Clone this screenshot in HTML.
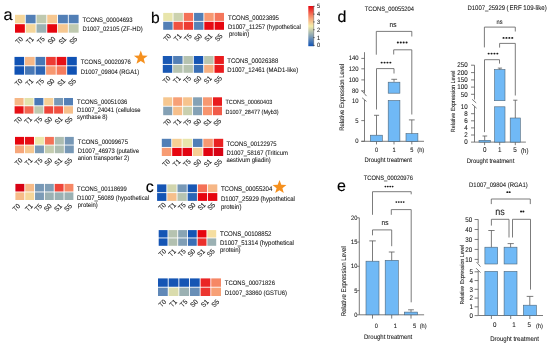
<!DOCTYPE html>
<html><head><meta charset="utf-8"><style>
html,body{margin:0;padding:0;background:#fff;}
body{width:550px;height:346px;overflow:hidden;}
svg{display:block;filter:blur(0.3px);}
text{font-family:"Liberation Sans", sans-serif;stroke:#333;stroke-width:0.08px;text-rendering:geometricPrecision;}
.nl{stroke-width:0.12px;}
.nl0{stroke:#000;stroke-width:0.15px;}
</style></head><body>
<svg width="550" height="346" viewBox="0 0 550 346" font-family='"Liberation Sans", sans-serif'>
<rect width="550" height="346" fill="#fff"/>
<text x="3.50" y="19.60" font-size="16.3" text-anchor="start" fill="#000" class="nl0">a</text>
<text x="150.90" y="23.00" font-size="15.6" text-anchor="start" fill="#000" class="nl0">b</text>
<text x="145.80" y="191.90" font-size="16.0" text-anchor="start" fill="#000" class="nl0">c</text>
<text x="337.40" y="22.10" font-size="16.0" text-anchor="start" fill="#000" class="nl0">d</text>
<text x="337.10" y="191.40" font-size="16.0" text-anchor="start" fill="#000" class="nl0">e</text>
<rect x="15.00" y="14.80" width="9.85" height="8.50" fill="#f5d69a"/>
<rect x="25.75" y="14.80" width="9.85" height="8.50" fill="#527fb6"/>
<rect x="36.50" y="14.80" width="9.85" height="8.50" fill="#bfc9af"/>
<rect x="47.25" y="14.80" width="9.85" height="8.50" fill="#f6c790"/>
<rect x="58.00" y="14.80" width="9.85" height="8.50" fill="#527fb6"/>
<rect x="68.75" y="14.80" width="9.85" height="8.50" fill="#527fb6"/>
<rect x="15.00" y="24.20" width="9.85" height="8.50" fill="#e6050f"/>
<rect x="25.75" y="24.20" width="9.85" height="8.50" fill="#f5d69a"/>
<rect x="36.50" y="24.20" width="9.85" height="8.50" fill="#9bb1b3"/>
<rect x="47.25" y="24.20" width="9.85" height="8.50" fill="#e6050f"/>
<rect x="58.00" y="24.20" width="9.85" height="8.50" fill="#f6c790"/>
<rect x="68.75" y="24.20" width="9.85" height="8.50" fill="#bfc9af"/>
<text transform="translate(23.40,39.40) rotate(-45) scale(0.9,1)" font-size="7.00" text-anchor="end" fill="#111" class="nl">T0</text>
<text transform="translate(34.26,39.40) rotate(-45) scale(0.9,1)" font-size="7.00" text-anchor="end" fill="#111" class="nl">T1</text>
<text transform="translate(45.12,39.40) rotate(-45) scale(0.9,1)" font-size="7.00" text-anchor="end" fill="#111" class="nl">T5</text>
<text transform="translate(55.98,39.40) rotate(-45) scale(0.9,1)" font-size="7.00" text-anchor="end" fill="#111" class="nl">S0</text>
<text transform="translate(66.84,39.40) rotate(-45) scale(0.9,1)" font-size="7.00" text-anchor="end" fill="#111" class="nl">S1</text>
<text transform="translate(77.70,39.40) rotate(-45) scale(0.9,1)" font-size="7.00" text-anchor="end" fill="#111" class="nl">S5</text>
<text transform="translate(82.40,21.80) scale(0.9,1)" font-size="6.56" text-anchor="start" fill="#111" >TCONS_00004693</text>
<text transform="translate(82.40,31.00) scale(0.9,1)" font-size="6.56" text-anchor="start" fill="#111" >D1007_02105 (ZF-HD)</text>
<rect x="14.50" y="56.90" width="9.63" height="8.45" fill="#1052b4"/>
<rect x="25.03" y="56.90" width="9.63" height="8.45" fill="#f6b786"/>
<rect x="35.57" y="56.90" width="9.63" height="8.45" fill="#4878b6"/>
<rect x="46.10" y="56.90" width="9.63" height="8.45" fill="#ed3b33"/>
<rect x="56.63" y="56.90" width="9.63" height="8.45" fill="#e71016"/>
<rect x="67.17" y="56.90" width="9.63" height="8.45" fill="#1052b4"/>
<rect x="14.50" y="66.25" width="9.63" height="8.45" fill="#1052b4"/>
<rect x="25.03" y="66.25" width="9.63" height="8.45" fill="#4878b6"/>
<rect x="35.57" y="66.25" width="9.63" height="8.45" fill="#2c65b5"/>
<rect x="46.10" y="66.25" width="9.63" height="8.45" fill="#f79871"/>
<rect x="56.63" y="66.25" width="9.63" height="8.45" fill="#f57c5e"/>
<rect x="67.17" y="66.25" width="9.63" height="8.45" fill="#1052b4"/>
<text transform="translate(23.00,81.40) rotate(-45) scale(0.9,1)" font-size="7.00" text-anchor="end" fill="#111" class="nl">T0</text>
<text transform="translate(33.70,81.40) rotate(-45) scale(0.9,1)" font-size="7.00" text-anchor="end" fill="#111" class="nl">T1</text>
<text transform="translate(44.40,81.40) rotate(-45) scale(0.9,1)" font-size="7.00" text-anchor="end" fill="#111" class="nl">T5</text>
<text transform="translate(55.10,81.40) rotate(-45) scale(0.9,1)" font-size="7.00" text-anchor="end" fill="#111" class="nl">S0</text>
<text transform="translate(65.80,81.40) rotate(-45) scale(0.9,1)" font-size="7.00" text-anchor="end" fill="#111" class="nl">S1</text>
<text transform="translate(76.50,81.40) rotate(-45) scale(0.9,1)" font-size="7.00" text-anchor="end" fill="#111" class="nl">S5</text>
<text transform="translate(80.70,64.30) scale(0.9,1)" font-size="6.56" text-anchor="start" fill="#111" >TCONS_00020976</text>
<text transform="translate(80.70,73.90) scale(0.9,1)" font-size="6.56" text-anchor="start" fill="#111" >D1007_09804 (RGA1)</text>
<rect x="14.60" y="98.00" width="8.98" height="7.35" fill="#f6b786"/>
<rect x="24.48" y="98.00" width="8.98" height="7.35" fill="#e3e2ac"/>
<rect x="34.37" y="98.00" width="8.98" height="7.35" fill="#4878b6"/>
<rect x="44.25" y="98.00" width="8.98" height="7.35" fill="#f6cf95"/>
<rect x="54.13" y="98.00" width="8.98" height="7.35" fill="#7798b6"/>
<rect x="64.02" y="98.00" width="8.98" height="7.35" fill="#527fb6"/>
<rect x="14.60" y="106.25" width="8.98" height="7.35" fill="#e71016"/>
<rect x="24.48" y="106.25" width="8.98" height="7.35" fill="#f26650"/>
<rect x="34.37" y="106.25" width="8.98" height="7.35" fill="#bfc9af"/>
<rect x="44.25" y="106.25" width="8.98" height="7.35" fill="#ee463a"/>
<rect x="54.13" y="106.25" width="8.98" height="7.35" fill="#f05141"/>
<rect x="64.02" y="106.25" width="8.98" height="7.35" fill="#f6bf8b"/>
<text transform="translate(22.40,119.40) rotate(-45) scale(0.9,1)" font-size="7.00" text-anchor="end" fill="#111" class="nl">T0</text>
<text transform="translate(32.52,119.40) rotate(-45) scale(0.9,1)" font-size="7.00" text-anchor="end" fill="#111" class="nl">T1</text>
<text transform="translate(42.64,119.40) rotate(-45) scale(0.9,1)" font-size="7.00" text-anchor="end" fill="#111" class="nl">T5</text>
<text transform="translate(52.76,119.40) rotate(-45) scale(0.9,1)" font-size="7.00" text-anchor="end" fill="#111" class="nl">S0</text>
<text transform="translate(62.88,119.40) rotate(-45) scale(0.9,1)" font-size="7.00" text-anchor="end" fill="#111" class="nl">S1</text>
<text transform="translate(73.00,119.40) rotate(-45) scale(0.9,1)" font-size="7.00" text-anchor="end" fill="#111" class="nl">S5</text>
<text transform="translate(77.10,103.70) scale(0.9,1)" font-size="6.56" text-anchor="start" fill="#111" >TCONS_00051036</text>
<text transform="translate(77.10,112.20) scale(0.9,1)" font-size="6.56" text-anchor="start" fill="#111" >D1007_24041 (cellulose</text>
<text transform="translate(77.10,119.00) scale(0.9,1)" font-size="6.56" text-anchor="start" fill="#111" >synthase 8)</text>
<rect x="15.00" y="136.90" width="9.05" height="7.70" fill="#e6050f"/>
<rect x="24.95" y="136.90" width="9.05" height="7.70" fill="#e71016"/>
<rect x="34.90" y="136.90" width="9.05" height="7.70" fill="#ece8ab"/>
<rect x="44.85" y="136.90" width="9.05" height="7.70" fill="#f47157"/>
<rect x="54.80" y="136.90" width="9.05" height="7.70" fill="#adbdb1"/>
<rect x="64.75" y="136.90" width="9.05" height="7.70" fill="#7798b6"/>
<rect x="15.00" y="145.50" width="9.05" height="7.70" fill="#f6a77b"/>
<rect x="24.95" y="145.50" width="9.05" height="7.70" fill="#f6c790"/>
<rect x="34.90" y="145.50" width="9.05" height="7.70" fill="#7b9bb6"/>
<rect x="44.85" y="145.50" width="9.05" height="7.70" fill="#c4ccaf"/>
<rect x="54.80" y="145.50" width="9.05" height="7.70" fill="#adbdb1"/>
<rect x="64.75" y="145.50" width="9.05" height="7.70" fill="#7798b6"/>
<text transform="translate(23.00,160.70) rotate(-45) scale(0.9,1)" font-size="7.00" text-anchor="end" fill="#111" class="nl">T0</text>
<text transform="translate(32.94,160.70) rotate(-45) scale(0.9,1)" font-size="7.00" text-anchor="end" fill="#111" class="nl">T1</text>
<text transform="translate(42.88,160.70) rotate(-45) scale(0.9,1)" font-size="7.00" text-anchor="end" fill="#111" class="nl">T5</text>
<text transform="translate(52.82,160.70) rotate(-45) scale(0.9,1)" font-size="7.00" text-anchor="end" fill="#111" class="nl">S0</text>
<text transform="translate(62.76,160.70) rotate(-45) scale(0.9,1)" font-size="7.00" text-anchor="end" fill="#111" class="nl">S1</text>
<text transform="translate(72.70,160.70) rotate(-45) scale(0.9,1)" font-size="7.00" text-anchor="end" fill="#111" class="nl">S5</text>
<text transform="translate(77.80,144.30) scale(0.9,1)" font-size="6.56" text-anchor="start" fill="#111" >TCONS_00099675</text>
<text transform="translate(77.80,152.90) scale(0.9,1)" font-size="6.56" text-anchor="start" fill="#111" >D1007_46973 (putative</text>
<text transform="translate(77.80,159.90) scale(0.9,1)" font-size="6.56" text-anchor="start" fill="#111" >anion transporter 2)</text>
<rect x="15.40" y="183.90" width="8.92" height="7.60" fill="#d70214"/>
<rect x="25.22" y="183.90" width="8.92" height="7.60" fill="#f6bb88"/>
<rect x="35.03" y="183.90" width="8.92" height="7.60" fill="#7798b6"/>
<rect x="44.85" y="183.90" width="8.92" height="7.60" fill="#809eb5"/>
<rect x="54.67" y="183.90" width="8.92" height="7.60" fill="#ee463a"/>
<rect x="64.48" y="183.90" width="8.92" height="7.60" fill="#f68765"/>
<rect x="15.40" y="192.40" width="8.92" height="7.60" fill="#f6bb88"/>
<rect x="25.22" y="192.40" width="8.92" height="7.60" fill="#f5d69a"/>
<rect x="35.03" y="192.40" width="8.92" height="7.60" fill="#7b9bb6"/>
<rect x="44.85" y="192.40" width="8.92" height="7.60" fill="#9bb1b3"/>
<rect x="54.67" y="192.40" width="8.92" height="7.60" fill="#9bb1b3"/>
<rect x="64.48" y="192.40" width="8.92" height="7.60" fill="#9bb1b3"/>
<text transform="translate(20.70,206.60) rotate(-45) scale(0.9,1)" font-size="7.00" text-anchor="end" fill="#111" class="nl">T0</text>
<text transform="translate(33.30,206.60) rotate(-45) scale(0.9,1)" font-size="7.00" text-anchor="end" fill="#111" class="nl">T1</text>
<text transform="translate(42.60,206.60) rotate(-45) scale(0.9,1)" font-size="7.00" text-anchor="end" fill="#111" class="nl">T5</text>
<text transform="translate(52.20,206.60) rotate(-45) scale(0.9,1)" font-size="7.00" text-anchor="end" fill="#111" class="nl">S0</text>
<text transform="translate(62.40,206.60) rotate(-45) scale(0.9,1)" font-size="7.00" text-anchor="end" fill="#111" class="nl">S1</text>
<text transform="translate(72.50,206.60) rotate(-45) scale(0.9,1)" font-size="7.00" text-anchor="end" fill="#111" class="nl">S5</text>
<text transform="translate(77.10,190.90) scale(0.9,1)" font-size="6.56" text-anchor="start" fill="#111" >TCONS_00118699</text>
<text transform="translate(77.10,199.60) scale(0.9,1)" font-size="6.56" text-anchor="start" fill="#111" >D1007_56089 (hypothetical</text>
<text transform="translate(77.70,206.50) scale(0.9,1)" font-size="6.56" text-anchor="start" fill="#111" > protein)</text>
<polygon points="140.80,50.60 142.60,55.42 147.74,55.64 143.72,58.85 145.09,63.81 140.80,60.97 136.51,63.81 137.88,58.85 133.86,55.64 139.00,55.42" fill="#f5901e"/>
<polygon points="279.50,179.90 281.30,184.72 286.44,184.94 282.42,188.15 283.79,193.11 279.50,190.27 275.21,193.11 276.58,188.15 272.56,184.94 277.70,184.72" fill="#f5901e"/>
<rect x="163.20" y="12.90" width="9.38" height="8.00" fill="#e8e5ab"/>
<rect x="173.48" y="12.90" width="9.38" height="8.00" fill="#ccd2ae"/>
<rect x="183.77" y="12.90" width="9.38" height="8.00" fill="#f47157"/>
<rect x="194.05" y="12.90" width="9.38" height="8.00" fill="#527fb6"/>
<rect x="204.33" y="12.90" width="9.38" height="8.00" fill="#f79871"/>
<rect x="214.62" y="12.90" width="9.38" height="8.00" fill="#f4765b"/>
<rect x="163.20" y="21.80" width="9.38" height="8.00" fill="#527fb6"/>
<rect x="173.48" y="21.80" width="9.38" height="8.00" fill="#f05141"/>
<rect x="183.77" y="21.80" width="9.38" height="8.00" fill="#ed3b33"/>
<rect x="194.05" y="21.80" width="9.38" height="8.00" fill="#5682b6"/>
<rect x="204.33" y="21.80" width="9.38" height="8.00" fill="#e70a13"/>
<rect x="214.62" y="21.80" width="9.38" height="8.00" fill="#e6050f"/>
<text transform="translate(171.60,36.50) rotate(-45) scale(0.9,1)" font-size="7.00" text-anchor="end" fill="#111" class="nl">T0</text>
<text transform="translate(181.90,36.50) rotate(-45) scale(0.9,1)" font-size="7.00" text-anchor="end" fill="#111" class="nl">T1</text>
<text transform="translate(192.20,36.50) rotate(-45) scale(0.9,1)" font-size="7.00" text-anchor="end" fill="#111" class="nl">T5</text>
<text transform="translate(202.50,36.50) rotate(-45) scale(0.9,1)" font-size="7.00" text-anchor="end" fill="#111" class="nl">S0</text>
<text transform="translate(212.80,36.50) rotate(-45) scale(0.9,1)" font-size="7.00" text-anchor="end" fill="#111" class="nl">S1</text>
<text transform="translate(223.10,36.50) rotate(-45) scale(0.9,1)" font-size="7.00" text-anchor="end" fill="#111" class="nl">S5</text>
<text transform="translate(228.00,19.90) scale(0.9,1)" font-size="6.67" text-anchor="start" fill="#111" >TCONS_00023895</text>
<text transform="translate(228.00,28.50) scale(0.9,1)" font-size="6.67" text-anchor="start" fill="#111" >D1007_11257 (hypothetical</text>
<text transform="translate(229.00,35.50) scale(0.9,1)" font-size="6.67" text-anchor="start" fill="#111" > protein)</text>
<rect x="162.80" y="56.00" width="9.43" height="7.95" fill="#1958b4"/>
<rect x="173.13" y="56.00" width="9.43" height="7.95" fill="#527fb6"/>
<rect x="183.47" y="56.00" width="9.43" height="7.95" fill="#b6c3b0"/>
<rect x="193.80" y="56.00" width="9.43" height="7.95" fill="#1555b4"/>
<rect x="204.13" y="56.00" width="9.43" height="7.95" fill="#bac6b0"/>
<rect x="214.47" y="56.00" width="9.43" height="7.95" fill="#e91b1d"/>
<rect x="162.80" y="64.85" width="9.43" height="7.95" fill="#1958b4"/>
<rect x="173.13" y="64.85" width="9.43" height="7.95" fill="#b6c3b0"/>
<rect x="183.47" y="64.85" width="9.43" height="7.95" fill="#b6c3b0"/>
<rect x="193.80" y="64.85" width="9.43" height="7.95" fill="#3a6fb5"/>
<rect x="204.13" y="64.85" width="9.43" height="7.95" fill="#f6af80"/>
<rect x="214.47" y="64.85" width="9.43" height="7.95" fill="#e91b1d"/>
<text transform="translate(170.90,78.80) rotate(-45) scale(0.9,1)" font-size="7.00" text-anchor="end" fill="#111" class="nl">T0</text>
<text transform="translate(181.22,78.80) rotate(-45) scale(0.9,1)" font-size="7.00" text-anchor="end" fill="#111" class="nl">T1</text>
<text transform="translate(191.54,78.80) rotate(-45) scale(0.9,1)" font-size="7.00" text-anchor="end" fill="#111" class="nl">T5</text>
<text transform="translate(201.86,78.80) rotate(-45) scale(0.9,1)" font-size="7.00" text-anchor="end" fill="#111" class="nl">S0</text>
<text transform="translate(212.18,78.80) rotate(-45) scale(0.9,1)" font-size="7.00" text-anchor="end" fill="#111" class="nl">S1</text>
<text transform="translate(222.50,78.80) rotate(-45) scale(0.9,1)" font-size="7.00" text-anchor="end" fill="#111" class="nl">S5</text>
<text transform="translate(227.30,62.80) scale(0.9,1)" font-size="6.67" text-anchor="start" fill="#111" >TCONS_00026388</text>
<text transform="translate(227.30,71.80) scale(0.9,1)" font-size="6.67" text-anchor="start" fill="#111" >D1007_12461 (MAD1-like)</text>
<rect x="163.20" y="97.30" width="9.05" height="8.50" fill="#f6c790"/>
<rect x="173.15" y="97.30" width="9.05" height="8.50" fill="#f7a076"/>
<rect x="183.10" y="97.30" width="9.05" height="8.50" fill="#f6c38d"/>
<rect x="193.05" y="97.30" width="9.05" height="8.50" fill="#84a1b5"/>
<rect x="203.00" y="97.30" width="9.05" height="8.50" fill="#f79871"/>
<rect x="212.95" y="97.30" width="9.05" height="8.50" fill="#e91b1d"/>
<rect x="163.20" y="106.70" width="9.05" height="8.50" fill="#84a1b5"/>
<rect x="173.15" y="106.70" width="9.05" height="8.50" fill="#f6bf8b"/>
<rect x="183.10" y="106.70" width="9.05" height="8.50" fill="#c8cfae"/>
<rect x="193.05" y="106.70" width="9.05" height="8.50" fill="#84a1b5"/>
<rect x="203.00" y="106.70" width="9.05" height="8.50" fill="#f7946e"/>
<rect x="212.95" y="106.70" width="9.05" height="8.50" fill="#f15b49"/>
<text transform="translate(171.60,121.40) rotate(-45) scale(0.9,1)" font-size="7.00" text-anchor="end" fill="#111" class="nl">T0</text>
<text transform="translate(181.64,121.40) rotate(-45) scale(0.9,1)" font-size="7.00" text-anchor="end" fill="#111" class="nl">T1</text>
<text transform="translate(191.68,121.40) rotate(-45) scale(0.9,1)" font-size="7.00" text-anchor="end" fill="#111" class="nl">T5</text>
<text transform="translate(201.72,121.40) rotate(-45) scale(0.9,1)" font-size="7.00" text-anchor="end" fill="#111" class="nl">S0</text>
<text transform="translate(211.76,121.40) rotate(-45) scale(0.9,1)" font-size="7.00" text-anchor="end" fill="#111" class="nl">S1</text>
<text transform="translate(221.80,121.40) rotate(-45) scale(0.9,1)" font-size="7.00" text-anchor="end" fill="#111" class="nl">S5</text>
<text transform="translate(225.50,104.40) scale(0.9,1)" font-size="6.11" text-anchor="start" fill="#111" >TCONS_00060403</text>
<text transform="translate(225.50,113.50) scale(0.9,1)" font-size="6.11" text-anchor="start" fill="#111" >D1007_28477 (Myb3)</text>
<rect x="161.80" y="138.80" width="9.48" height="8.15" fill="#527fb6"/>
<rect x="172.18" y="138.80" width="9.48" height="8.15" fill="#f6cf95"/>
<rect x="182.57" y="138.80" width="9.48" height="8.15" fill="#e8e5ab"/>
<rect x="192.95" y="138.80" width="9.48" height="8.15" fill="#527fb6"/>
<rect x="203.33" y="138.80" width="9.48" height="8.15" fill="#f79871"/>
<rect x="213.72" y="138.80" width="9.48" height="8.15" fill="#e92021"/>
<rect x="161.80" y="147.85" width="9.48" height="8.15" fill="#f79c73"/>
<rect x="172.18" y="147.85" width="9.48" height="8.15" fill="#e6050f"/>
<rect x="182.57" y="147.85" width="9.48" height="8.15" fill="#e10411"/>
<rect x="192.95" y="147.85" width="9.48" height="8.15" fill="#f6cf95"/>
<rect x="203.33" y="147.85" width="9.48" height="8.15" fill="#e10411"/>
<rect x="213.72" y="147.85" width="9.48" height="8.15" fill="#d70214"/>
<text transform="translate(170.50,162.00) rotate(-45) scale(0.9,1)" font-size="7.00" text-anchor="end" fill="#111" class="nl">T0</text>
<text transform="translate(180.90,162.00) rotate(-45) scale(0.9,1)" font-size="7.00" text-anchor="end" fill="#111" class="nl">T1</text>
<text transform="translate(191.30,162.00) rotate(-45) scale(0.9,1)" font-size="7.00" text-anchor="end" fill="#111" class="nl">T5</text>
<text transform="translate(201.70,162.00) rotate(-45) scale(0.9,1)" font-size="7.00" text-anchor="end" fill="#111" class="nl">S0</text>
<text transform="translate(212.10,162.00) rotate(-45) scale(0.9,1)" font-size="7.00" text-anchor="end" fill="#111" class="nl">S1</text>
<text transform="translate(222.50,162.00) rotate(-45) scale(0.9,1)" font-size="7.00" text-anchor="end" fill="#111" class="nl">S5</text>
<text transform="translate(226.50,145.80) scale(0.9,1)" font-size="6.56" text-anchor="start" fill="#111" >TCONS_00122975</text>
<text transform="translate(226.50,154.50) scale(0.9,1)" font-size="6.56" text-anchor="start" fill="#111" >D1007_58167 (Triticum</text>
<text transform="translate(226.50,161.80) scale(0.9,1)" font-size="6.56" text-anchor="start" fill="#111" >aestivum gliadin)</text>
<defs><linearGradient id="cb" x1="0" y1="1" x2="0" y2="0"><stop offset="0.000" stop-color="#1052b4"/><stop offset="0.100" stop-color="#3f72b6"/><stop offset="0.200" stop-color="#6e92b7"/><stop offset="0.300" stop-color="#9bb1b3"/><stop offset="0.400" stop-color="#c8cfae"/><stop offset="0.500" stop-color="#f5eeaa"/><stop offset="0.600" stop-color="#f6c790"/><stop offset="0.700" stop-color="#f7a076"/><stop offset="0.800" stop-color="#f47157"/><stop offset="0.900" stop-color="#ed3b33"/><stop offset="1.000" stop-color="#e6050f"/></linearGradient></defs>
<rect x="308.30" y="6.00" width="5.50" height="40.20" fill="url(#cb)"/>
<line x1="313.70" y1="6.00" x2="313.70" y2="46.20" stroke="#666" stroke-width="0.5"/>
<line x1="313.30" y1="45.40" x2="314.60" y2="45.40" stroke="#333" stroke-width="0.8"/>
<text transform="translate(317.00,47.40) scale(0.9,1)" font-size="6.22" text-anchor="start" fill="#111" >0</text>
<line x1="313.30" y1="37.58" x2="314.60" y2="37.58" stroke="#333" stroke-width="0.8"/>
<text transform="translate(317.00,39.58) scale(0.9,1)" font-size="6.22" text-anchor="start" fill="#111" >1</text>
<line x1="313.30" y1="29.76" x2="314.60" y2="29.76" stroke="#333" stroke-width="0.8"/>
<text transform="translate(317.00,31.76) scale(0.9,1)" font-size="6.22" text-anchor="start" fill="#111" >2</text>
<line x1="313.30" y1="21.94" x2="314.60" y2="21.94" stroke="#333" stroke-width="0.8"/>
<text transform="translate(317.00,23.94) scale(0.9,1)" font-size="6.22" text-anchor="start" fill="#111" >3</text>
<line x1="313.30" y1="14.12" x2="314.60" y2="14.12" stroke="#333" stroke-width="0.8"/>
<text transform="translate(317.00,16.12) scale(0.9,1)" font-size="6.22" text-anchor="start" fill="#111" >4</text>
<line x1="313.30" y1="6.30" x2="314.60" y2="6.30" stroke="#333" stroke-width="0.8"/>
<text transform="translate(317.00,8.30) scale(0.9,1)" font-size="6.22" text-anchor="start" fill="#111" >5</text>
<rect x="157.10" y="184.40" width="9.28" height="7.80" fill="#1555b4"/>
<rect x="167.28" y="184.40" width="9.28" height="7.80" fill="#d1d5ad"/>
<rect x="177.47" y="184.40" width="9.28" height="7.80" fill="#7798b6"/>
<rect x="187.65" y="184.40" width="9.28" height="7.80" fill="#1958b4"/>
<rect x="197.83" y="184.40" width="9.28" height="7.80" fill="#f47157"/>
<rect x="208.02" y="184.40" width="9.28" height="7.80" fill="#f6b786"/>
<rect x="157.10" y="193.10" width="9.28" height="7.80" fill="#1555b4"/>
<rect x="167.28" y="193.10" width="9.28" height="7.80" fill="#f6bf8b"/>
<rect x="177.47" y="193.10" width="9.28" height="7.80" fill="#b6c3b0"/>
<rect x="187.65" y="193.10" width="9.28" height="7.80" fill="#2c65b5"/>
<rect x="197.83" y="193.10" width="9.28" height="7.80" fill="#e6050f"/>
<rect x="208.02" y="193.10" width="9.28" height="7.80" fill="#e6050f"/>
<text transform="translate(166.50,205.40) rotate(-45) scale(0.9,1)" font-size="7.00" text-anchor="end" fill="#111" class="nl">T0</text>
<text transform="translate(176.36,205.40) rotate(-45) scale(0.9,1)" font-size="7.00" text-anchor="end" fill="#111" class="nl">T1</text>
<text transform="translate(186.22,205.40) rotate(-45) scale(0.9,1)" font-size="7.00" text-anchor="end" fill="#111" class="nl">T5</text>
<text transform="translate(196.08,205.40) rotate(-45) scale(0.9,1)" font-size="7.00" text-anchor="end" fill="#111" class="nl">S0</text>
<text transform="translate(205.94,205.40) rotate(-45) scale(0.9,1)" font-size="7.00" text-anchor="end" fill="#111" class="nl">S1</text>
<text transform="translate(215.80,205.40) rotate(-45) scale(0.9,1)" font-size="7.00" text-anchor="end" fill="#111" class="nl">S5</text>
<text transform="translate(220.90,191.00) scale(0.9,1)" font-size="6.72" text-anchor="start" fill="#111" >TCONS_00055204</text>
<text transform="translate(220.90,200.50) scale(0.9,1)" font-size="6.72" text-anchor="start" fill="#111" >D1007_25929 (hypothetical</text>
<text transform="translate(220.90,208.60) scale(0.9,1)" font-size="6.72" text-anchor="start" fill="#111" >protein)</text>
<rect x="158.70" y="230.10" width="8.83" height="7.40" fill="#1555b4"/>
<rect x="168.43" y="230.10" width="8.83" height="7.40" fill="#b6c3b0"/>
<rect x="178.17" y="230.10" width="8.83" height="7.40" fill="#89a4b4"/>
<rect x="187.90" y="230.10" width="8.83" height="7.40" fill="#1555b4"/>
<rect x="197.63" y="230.10" width="8.83" height="7.40" fill="#e6050f"/>
<rect x="207.37" y="230.10" width="8.83" height="7.40" fill="#f5dea0"/>
<rect x="158.70" y="238.40" width="8.83" height="7.40" fill="#1555b4"/>
<rect x="168.43" y="238.40" width="8.83" height="7.40" fill="#b2c0b0"/>
<rect x="178.17" y="238.40" width="8.83" height="7.40" fill="#809eb5"/>
<rect x="187.90" y="238.40" width="8.83" height="7.40" fill="#3a6fb5"/>
<rect x="197.63" y="238.40" width="8.83" height="7.40" fill="#eb302c"/>
<rect x="207.37" y="238.40" width="8.83" height="7.40" fill="#9bb1b3"/>
<text transform="translate(166.80,251.80) rotate(-45) scale(0.9,1)" font-size="7.00" text-anchor="end" fill="#111" class="nl">T0</text>
<text transform="translate(176.48,251.80) rotate(-45) scale(0.9,1)" font-size="7.00" text-anchor="end" fill="#111" class="nl">T1</text>
<text transform="translate(186.16,251.80) rotate(-45) scale(0.9,1)" font-size="7.00" text-anchor="end" fill="#111" class="nl">T5</text>
<text transform="translate(195.84,251.80) rotate(-45) scale(0.9,1)" font-size="7.00" text-anchor="end" fill="#111" class="nl">S0</text>
<text transform="translate(205.52,251.80) rotate(-45) scale(0.9,1)" font-size="7.00" text-anchor="end" fill="#111" class="nl">S1</text>
<text transform="translate(215.20,251.80) rotate(-45) scale(0.9,1)" font-size="7.00" text-anchor="end" fill="#111" class="nl">S5</text>
<text transform="translate(220.00,236.30) scale(0.9,1)" font-size="6.72" text-anchor="start" fill="#111" >TCONS_00108852</text>
<text transform="translate(220.00,245.00) scale(0.9,1)" font-size="6.72" text-anchor="start" fill="#111" >D1007_51314 (hypothetical</text>
<text transform="translate(220.00,251.50) scale(0.9,1)" font-size="6.72" text-anchor="start" fill="#111" >protein)</text>
<rect x="158.00" y="278.40" width="9.75" height="8.35" fill="#1555b4"/>
<rect x="168.65" y="278.40" width="9.75" height="8.35" fill="#1555b4"/>
<rect x="179.30" y="278.40" width="9.75" height="8.35" fill="#1555b4"/>
<rect x="189.95" y="278.40" width="9.75" height="8.35" fill="#1555b4"/>
<rect x="200.60" y="278.40" width="9.75" height="8.35" fill="#ea2525"/>
<rect x="211.25" y="278.40" width="9.75" height="8.35" fill="#f68765"/>
<rect x="158.00" y="287.65" width="9.75" height="8.35" fill="#6088b7"/>
<rect x="168.65" y="287.65" width="9.75" height="8.35" fill="#dadcad"/>
<rect x="179.30" y="287.65" width="9.75" height="8.35" fill="#9bb1b3"/>
<rect x="189.95" y="287.65" width="9.75" height="8.35" fill="#698fb7"/>
<rect x="200.60" y="287.65" width="9.75" height="8.35" fill="#ec362f"/>
<rect x="211.25" y="287.65" width="9.75" height="8.35" fill="#f7a076"/>
<text transform="translate(166.80,302.30) rotate(-45) scale(0.9,1)" font-size="7.00" text-anchor="end" fill="#111" class="nl">T0</text>
<text transform="translate(177.38,302.30) rotate(-45) scale(0.9,1)" font-size="7.00" text-anchor="end" fill="#111" class="nl">T1</text>
<text transform="translate(187.96,302.30) rotate(-45) scale(0.9,1)" font-size="7.00" text-anchor="end" fill="#111" class="nl">T5</text>
<text transform="translate(198.54,302.30) rotate(-45) scale(0.9,1)" font-size="7.00" text-anchor="end" fill="#111" class="nl">S0</text>
<text transform="translate(209.12,302.30) rotate(-45) scale(0.9,1)" font-size="7.00" text-anchor="end" fill="#111" class="nl">S1</text>
<text transform="translate(219.70,302.30) rotate(-45) scale(0.9,1)" font-size="7.00" text-anchor="end" fill="#111" class="nl">S5</text>
<text transform="translate(224.80,285.10) scale(0.9,1)" font-size="6.56" text-anchor="start" fill="#111" >TCONS_00071826</text>
<text transform="translate(224.80,294.90) scale(0.9,1)" font-size="6.56" text-anchor="start" fill="#111" >D1007_33860 (GSTU6)</text>
<text transform="translate(389.40,11.30) scale(0.9,1)" font-size="6.44" text-anchor="middle" fill="#111" >TCONS_00055204</text>
<line x1="364.50" y1="52.20" x2="364.50" y2="93.00" stroke="#5a5a5a" stroke-width="0.8"/>
<line x1="364.50" y1="100.00" x2="364.50" y2="141.30" stroke="#5a5a5a" stroke-width="0.8"/>
<line x1="361.70" y1="90.50" x2="366.50" y2="96.10" stroke="#5a5a5a" stroke-width="0.8"/>
<line x1="362.10" y1="97.80" x2="366.50" y2="101.40" stroke="#5a5a5a" stroke-width="0.8"/>
<line x1="361.30" y1="58.40" x2="364.50" y2="58.40" stroke="#5a5a5a" stroke-width="0.8"/>
<text transform="translate(358.60,60.40) scale(0.9,1)" font-size="6.56" text-anchor="end" fill="#111" >140</text>
<line x1="361.30" y1="68.80" x2="364.50" y2="68.80" stroke="#5a5a5a" stroke-width="0.8"/>
<text transform="translate(358.60,70.80) scale(0.9,1)" font-size="6.56" text-anchor="end" fill="#111" >120</text>
<line x1="361.30" y1="79.90" x2="364.50" y2="79.90" stroke="#5a5a5a" stroke-width="0.8"/>
<text transform="translate(358.60,81.90) scale(0.9,1)" font-size="6.56" text-anchor="end" fill="#111" >100</text>
<line x1="361.30" y1="90.90" x2="364.50" y2="90.90" stroke="#5a5a5a" stroke-width="0.8"/>
<text transform="translate(358.60,92.90) scale(0.9,1)" font-size="6.56" text-anchor="end" fill="#111" >80</text>
<text transform="translate(358.60,102.60) scale(0.9,1)" font-size="6.56" text-anchor="end" fill="#111" >10</text>
<line x1="361.30" y1="120.60" x2="364.50" y2="120.60" stroke="#5a5a5a" stroke-width="0.8"/>
<text transform="translate(358.60,122.60) scale(0.9,1)" font-size="6.56" text-anchor="end" fill="#111" >5</text>
<line x1="361.30" y1="141.30" x2="364.50" y2="141.30" stroke="#5a5a5a" stroke-width="0.8"/>
<text transform="translate(358.60,143.30) scale(0.9,1)" font-size="6.56" text-anchor="end" fill="#111" >0</text>
<line x1="361.30" y1="141.30" x2="424.00" y2="141.30" stroke="#5a5a5a" stroke-width="0.8"/>
<line x1="376.50" y1="141.30" x2="376.50" y2="144.40" stroke="#5a5a5a" stroke-width="0.8"/>
<line x1="394.00" y1="141.30" x2="394.00" y2="144.40" stroke="#5a5a5a" stroke-width="0.8"/>
<line x1="411.80" y1="141.30" x2="411.80" y2="144.40" stroke="#5a5a5a" stroke-width="0.8"/>
<text transform="translate(376.50,151.50) scale(0.9,1)" font-size="6.33" text-anchor="middle" fill="#111" >0</text>
<text transform="translate(394.00,151.50) scale(0.9,1)" font-size="6.33" text-anchor="middle" fill="#111" >1</text>
<text transform="translate(411.80,151.50) scale(0.9,1)" font-size="6.33" text-anchor="middle" fill="#111" >5</text>
<text transform="translate(417.30,151.50) scale(0.9,1)" font-size="6.33" text-anchor="start" fill="#111" >(h)</text>
<text transform="translate(364.50,162.40) scale(0.9,1)" font-size="6.56" text-anchor="start" fill="#111" >Drought treatment</text>
<text transform="translate(344.00,97.30) rotate(-90) scale(0.9,1)" font-size="6.44" text-anchor="middle" fill="#111">Relative Expression Level</text>
<rect x="370.40" y="135.20" width="11.90" height="6.10" fill="#70b9f6" stroke="#4d6578" stroke-width="0.6"/>
<line x1="376.50" y1="115.30" x2="376.50" y2="135.20" stroke="#5a5a5a" stroke-width="0.8"/>
<line x1="374.00" y1="115.30" x2="379.10" y2="115.30" stroke="#5a5a5a" stroke-width="0.8"/>
<rect x="388.20" y="82.20" width="11.70" height="11.00" fill="#70b9f6" stroke="#4d6578" stroke-width="0.6"/>
<rect x="388.20" y="100.50" width="11.70" height="40.80" fill="#70b9f6" stroke="#4d6578" stroke-width="0.6"/>
<line x1="394.00" y1="79.30" x2="394.00" y2="81.80" stroke="#5a5a5a" stroke-width="0.8"/>
<line x1="391.30" y1="79.30" x2="397.10" y2="79.30" stroke="#5a5a5a" stroke-width="0.8"/>
<rect x="406.00" y="133.60" width="11.90" height="7.70" fill="#70b9f6" stroke="#4d6578" stroke-width="0.6"/>
<line x1="411.80" y1="119.90" x2="411.80" y2="133.60" stroke="#5a5a5a" stroke-width="0.8"/>
<line x1="408.90" y1="119.90" x2="414.70" y2="119.90" stroke="#5a5a5a" stroke-width="0.8"/>
<polyline points="376.30,54.70 376.30,31.40 411.80,31.40 411.80,36.50" fill="none" stroke="#5a5a5a" stroke-width="0.8"/>
<text transform="translate(393.10,26.90) scale(0.9,1)" font-size="7.33" text-anchor="middle" fill="#111" >ns</text>
<polyline points="393.70,54.50 393.70,49.80 411.80,49.80 411.80,114.50" fill="none" stroke="#5a5a5a" stroke-width="0.8"/>
<ellipse cx="397.85" cy="42.50" rx="1.05" ry="0.9" fill="#1a1a1a"/>
<ellipse cx="400.75" cy="42.50" rx="1.05" ry="0.9" fill="#1a1a1a"/>
<ellipse cx="403.65" cy="42.50" rx="1.05" ry="0.9" fill="#1a1a1a"/>
<ellipse cx="406.55" cy="42.50" rx="1.05" ry="0.9" fill="#1a1a1a"/>
<polyline points="376.50,109.50 376.50,68.60 394.00,68.60 394.00,73.50" fill="none" stroke="#5a5a5a" stroke-width="0.8"/>
<ellipse cx="381.65" cy="62.60" rx="1.05" ry="0.9" fill="#1a1a1a"/>
<ellipse cx="384.55" cy="62.60" rx="1.05" ry="0.9" fill="#1a1a1a"/>
<ellipse cx="387.45" cy="62.60" rx="1.05" ry="0.9" fill="#1a1a1a"/>
<ellipse cx="390.35" cy="62.60" rx="1.05" ry="0.9" fill="#1a1a1a"/>
<text transform="translate(467.40,10.30) scale(0.9,1)" font-size="6.67" text-anchor="start" fill="#111" >D1007_25929</text>
<text transform="translate(506.40,10.30) scale(0.9,1)" font-size="6.67" text-anchor="start" fill="#111" >(</text>
<text transform="translate(509.50,10.30) scale(0.9,1)" font-size="6.78" text-anchor="start" fill="#111" >ERF 109-like)</text>
<line x1="474.50" y1="65.20" x2="474.50" y2="99.50" stroke="#5a5a5a" stroke-width="0.8"/>
<line x1="474.50" y1="106.40" x2="474.50" y2="142.10" stroke="#5a5a5a" stroke-width="0.8"/>
<line x1="472.10" y1="99.30" x2="476.20" y2="102.90" stroke="#5a5a5a" stroke-width="0.8"/>
<line x1="472.10" y1="104.20" x2="476.60" y2="108.20" stroke="#5a5a5a" stroke-width="0.8"/>
<line x1="471.00" y1="65.20" x2="474.50" y2="65.20" stroke="#5a5a5a" stroke-width="0.8"/>
<text transform="translate(467.60,67.40) scale(0.9,1)" font-size="6.89" text-anchor="end" fill="#111" >250</text>
<line x1="471.00" y1="72.60" x2="474.50" y2="72.60" stroke="#5a5a5a" stroke-width="0.8"/>
<text transform="translate(467.60,74.80) scale(0.9,1)" font-size="6.89" text-anchor="end" fill="#111" >200</text>
<line x1="471.00" y1="79.90" x2="474.50" y2="79.90" stroke="#5a5a5a" stroke-width="0.8"/>
<text transform="translate(467.60,82.10) scale(0.9,1)" font-size="6.89" text-anchor="end" fill="#111" >150</text>
<line x1="471.00" y1="87.10" x2="474.50" y2="87.10" stroke="#5a5a5a" stroke-width="0.8"/>
<text transform="translate(467.60,89.30) scale(0.9,1)" font-size="6.89" text-anchor="end" fill="#111" >100</text>
<line x1="471.00" y1="94.30" x2="474.50" y2="94.30" stroke="#5a5a5a" stroke-width="0.8"/>
<text transform="translate(467.60,96.50) scale(0.9,1)" font-size="6.89" text-anchor="end" fill="#111" >50</text>
<text transform="translate(467.60,108.80) scale(0.9,1)" font-size="6.89" text-anchor="end" fill="#111" >10</text>
<line x1="471.00" y1="113.70" x2="474.50" y2="113.70" stroke="#5a5a5a" stroke-width="0.8"/>
<text transform="translate(467.60,115.90) scale(0.9,1)" font-size="6.89" text-anchor="end" fill="#111" >8</text>
<line x1="471.00" y1="120.80" x2="474.50" y2="120.80" stroke="#5a5a5a" stroke-width="0.8"/>
<text transform="translate(467.60,123.00) scale(0.9,1)" font-size="6.89" text-anchor="end" fill="#111" >6</text>
<line x1="471.00" y1="127.90" x2="474.50" y2="127.90" stroke="#5a5a5a" stroke-width="0.8"/>
<text transform="translate(467.60,130.10) scale(0.9,1)" font-size="6.89" text-anchor="end" fill="#111" >4</text>
<line x1="471.00" y1="135.00" x2="474.50" y2="135.00" stroke="#5a5a5a" stroke-width="0.8"/>
<text transform="translate(467.60,137.20) scale(0.9,1)" font-size="6.89" text-anchor="end" fill="#111" >2</text>
<line x1="471.00" y1="142.10" x2="474.50" y2="142.10" stroke="#5a5a5a" stroke-width="0.8"/>
<text transform="translate(467.60,144.30) scale(0.9,1)" font-size="6.89" text-anchor="end" fill="#111" >0</text>
<line x1="474.50" y1="142.10" x2="525.90" y2="142.10" stroke="#5a5a5a" stroke-width="0.8"/>
<line x1="484.60" y1="142.10" x2="484.60" y2="145.20" stroke="#5a5a5a" stroke-width="0.8"/>
<line x1="499.70" y1="142.10" x2="499.70" y2="145.20" stroke="#5a5a5a" stroke-width="0.8"/>
<line x1="515.30" y1="142.10" x2="515.30" y2="145.20" stroke="#5a5a5a" stroke-width="0.8"/>
<text transform="translate(484.80,151.70) scale(0.9,1)" font-size="7.00" text-anchor="middle" fill="#111" >0</text>
<text transform="translate(499.80,151.70) scale(0.9,1)" font-size="7.00" text-anchor="middle" fill="#111" >1</text>
<text transform="translate(515.10,151.70) scale(0.9,1)" font-size="7.00" text-anchor="middle" fill="#111" >5</text>
<text transform="translate(521.00,152.60) scale(0.9,1)" font-size="6.78" text-anchor="start" fill="#111" >(h)</text>
<text transform="translate(466.80,163.00) scale(0.9,1)" font-size="6.56" text-anchor="start" fill="#111" >Drought treatment</text>
<text transform="translate(454.60,101.40) rotate(-90) scale(0.9,1)" font-size="5.94" text-anchor="middle" fill="#111">Relative Expression Level</text>
<rect x="479.00" y="140.30" width="11.30" height="1.80" fill="#70b9f6" stroke="#4d6578" stroke-width="0.6"/>
<line x1="484.70" y1="136.00" x2="484.70" y2="140.30" stroke="#5a5a5a" stroke-width="0.8"/>
<line x1="482.50" y1="136.00" x2="487.20" y2="136.00" stroke="#5a5a5a" stroke-width="0.8"/>
<rect x="494.60" y="69.50" width="10.40" height="31.20" fill="#70b9f6" stroke="#4d6578" stroke-width="0.6"/>
<rect x="494.60" y="106.80" width="10.40" height="35.30" fill="#70b9f6" stroke="#4d6578" stroke-width="0.6"/>
<line x1="499.80" y1="68.10" x2="499.80" y2="69.50" stroke="#5a5a5a" stroke-width="0.8"/>
<line x1="497.80" y1="68.10" x2="502.10" y2="68.10" stroke="#5a5a5a" stroke-width="0.8"/>
<rect x="510.20" y="118.00" width="10.10" height="24.10" fill="#70b9f6" stroke="#4d6578" stroke-width="0.6"/>
<line x1="515.30" y1="100.20" x2="515.30" y2="118.00" stroke="#5a5a5a" stroke-width="0.8"/>
<line x1="513.20" y1="100.20" x2="517.40" y2="100.20" stroke="#5a5a5a" stroke-width="0.8"/>
<polyline points="484.40,47.40 484.40,27.10 515.30,27.10 515.30,31.50" fill="none" stroke="#5a5a5a" stroke-width="0.8"/>
<text transform="translate(499.50,23.60) scale(0.9,1)" font-size="6.33" text-anchor="middle" fill="#111" >ns</text>
<polyline points="499.60,47.60 499.60,43.40 515.30,43.40 515.30,95.50" fill="none" stroke="#5a5a5a" stroke-width="0.8"/>
<ellipse cx="503.55" cy="37.90" rx="1.05" ry="0.9" fill="#1a1a1a"/>
<ellipse cx="506.45" cy="37.90" rx="1.05" ry="0.9" fill="#1a1a1a"/>
<ellipse cx="509.35" cy="37.90" rx="1.05" ry="0.9" fill="#1a1a1a"/>
<ellipse cx="512.25" cy="37.90" rx="1.05" ry="0.9" fill="#1a1a1a"/>
<polyline points="484.50,132.10 484.50,59.70 499.50,59.70 499.50,63.60" fill="none" stroke="#5a5a5a" stroke-width="0.8"/>
<ellipse cx="488.65" cy="53.60" rx="1.05" ry="0.9" fill="#1a1a1a"/>
<ellipse cx="491.55" cy="53.60" rx="1.05" ry="0.9" fill="#1a1a1a"/>
<ellipse cx="494.45" cy="53.60" rx="1.05" ry="0.9" fill="#1a1a1a"/>
<ellipse cx="497.35" cy="53.60" rx="1.05" ry="0.9" fill="#1a1a1a"/>
<text transform="translate(388.40,180.10) scale(0.9,1)" font-size="6.44" text-anchor="middle" fill="#111" >TCONS_00020976</text>
<line x1="359.30" y1="217.80" x2="359.30" y2="314.80" stroke="#5a5a5a" stroke-width="0.8"/>
<line x1="357.20" y1="217.80" x2="359.30" y2="217.80" stroke="#5a5a5a" stroke-width="0.8"/>
<text transform="translate(357.40,219.80) scale(0.9,1)" font-size="6.33" text-anchor="end" fill="#111" >20</text>
<line x1="357.20" y1="242.05" x2="359.30" y2="242.05" stroke="#5a5a5a" stroke-width="0.8"/>
<text transform="translate(357.40,244.05) scale(0.9,1)" font-size="6.33" text-anchor="end" fill="#111" >15</text>
<line x1="357.20" y1="266.30" x2="359.30" y2="266.30" stroke="#5a5a5a" stroke-width="0.8"/>
<text transform="translate(357.40,268.30) scale(0.9,1)" font-size="6.33" text-anchor="end" fill="#111" >10</text>
<line x1="357.20" y1="290.55" x2="359.30" y2="290.55" stroke="#5a5a5a" stroke-width="0.8"/>
<text transform="translate(357.40,292.55) scale(0.9,1)" font-size="6.33" text-anchor="end" fill="#111" >5</text>
<line x1="357.20" y1="314.80" x2="359.30" y2="314.80" stroke="#5a5a5a" stroke-width="0.8"/>
<text transform="translate(357.40,316.80) scale(0.9,1)" font-size="6.33" text-anchor="end" fill="#111" >0</text>
<line x1="359.30" y1="314.80" x2="424.10" y2="314.80" stroke="#5a5a5a" stroke-width="0.8"/>
<line x1="372.50" y1="314.80" x2="372.50" y2="318.60" stroke="#5a5a5a" stroke-width="0.8"/>
<line x1="391.70" y1="314.80" x2="391.70" y2="318.60" stroke="#5a5a5a" stroke-width="0.8"/>
<line x1="411.00" y1="314.80" x2="411.00" y2="318.60" stroke="#5a5a5a" stroke-width="0.8"/>
<text transform="translate(376.40,328.40) scale(0.9,1)" font-size="6.33" text-anchor="middle" fill="#111" >0</text>
<text transform="translate(395.40,328.40) scale(0.9,1)" font-size="6.33" text-anchor="middle" fill="#111" >1</text>
<text transform="translate(414.60,328.40) scale(0.9,1)" font-size="6.33" text-anchor="middle" fill="#111" >5</text>
<text transform="translate(419.70,327.60) scale(0.9,1)" font-size="6.33" text-anchor="start" fill="#111" >(h)</text>
<text transform="translate(364.00,339.30) scale(0.9,1)" font-size="6.67" text-anchor="start" fill="#111" >Drought treatment</text>
<text transform="translate(346.00,281.20) rotate(-90) scale(0.9,1)" font-size="6.78" text-anchor="middle" fill="#111">Relative Expression Level</text>
<rect x="366.00" y="261.20" width="13.00" height="53.60" fill="#70b9f6" stroke="#4d6578" stroke-width="0.6"/>
<line x1="372.50" y1="240.90" x2="372.50" y2="261.20" stroke="#5a5a5a" stroke-width="0.8"/>
<line x1="369.30" y1="240.90" x2="375.80" y2="240.90" stroke="#5a5a5a" stroke-width="0.8"/>
<rect x="385.20" y="260.30" width="13.10" height="54.50" fill="#70b9f6" stroke="#4d6578" stroke-width="0.6"/>
<line x1="391.70" y1="252.00" x2="391.70" y2="260.30" stroke="#5a5a5a" stroke-width="0.8"/>
<line x1="388.80" y1="252.00" x2="394.60" y2="252.00" stroke="#5a5a5a" stroke-width="0.8"/>
<rect x="404.30" y="312.10" width="13.30" height="2.70" fill="#70b9f6" stroke="#4d6578" stroke-width="0.6"/>
<line x1="411.00" y1="309.80" x2="411.00" y2="312.10" stroke="#5a5a5a" stroke-width="0.8"/>
<line x1="408.10" y1="309.80" x2="413.90" y2="309.80" stroke="#5a5a5a" stroke-width="0.8"/>
<polyline points="372.50,214.80 372.50,191.70 411.20,191.70 411.20,194.30" fill="none" stroke="#5a5a5a" stroke-width="0.8"/>
<ellipse cx="385.40" cy="186.60" rx="0.95" ry="0.8" fill="#1a1a1a"/>
<ellipse cx="387.80" cy="186.60" rx="0.95" ry="0.8" fill="#1a1a1a"/>
<ellipse cx="390.20" cy="186.60" rx="0.95" ry="0.8" fill="#1a1a1a"/>
<ellipse cx="392.60" cy="186.60" rx="0.95" ry="0.8" fill="#1a1a1a"/>
<polyline points="391.30,214.80 391.30,209.60 411.20,209.60 411.20,302.30" fill="none" stroke="#5a5a5a" stroke-width="0.8"/>
<ellipse cx="396.32" cy="202.10" rx="0.95" ry="0.8" fill="#1a1a1a"/>
<ellipse cx="398.77" cy="202.10" rx="0.95" ry="0.8" fill="#1a1a1a"/>
<ellipse cx="401.22" cy="202.10" rx="0.95" ry="0.8" fill="#1a1a1a"/>
<ellipse cx="403.68" cy="202.10" rx="0.95" ry="0.8" fill="#1a1a1a"/>
<polyline points="372.50,235.30 372.50,229.90 391.70,229.90 391.70,246.20" fill="none" stroke="#5a5a5a" stroke-width="0.8"/>
<text transform="translate(385.00,225.00) scale(0.9,1)" font-size="7.33" text-anchor="middle" fill="#111" >ns</text>
<text transform="translate(469.10,186.80) scale(0.9,1)" font-size="6.56" text-anchor="start" fill="#111" >D1007_09804 (RGA1)</text>
<line x1="478.20" y1="219.40" x2="478.20" y2="263.00" stroke="#5a5a5a" stroke-width="0.8"/>
<line x1="478.20" y1="270.80" x2="478.20" y2="315.50" stroke="#5a5a5a" stroke-width="0.8"/>
<line x1="476.50" y1="262.10" x2="480.50" y2="266.60" stroke="#5a5a5a" stroke-width="0.8"/>
<line x1="476.10" y1="268.20" x2="480.50" y2="272.60" stroke="#5a5a5a" stroke-width="0.8"/>
<line x1="474.60" y1="219.50" x2="478.20" y2="219.50" stroke="#5a5a5a" stroke-width="0.8"/>
<text transform="translate(472.10,221.70) scale(0.9,1)" font-size="6.89" text-anchor="end" fill="#111" >50</text>
<line x1="474.60" y1="229.47" x2="478.20" y2="229.47" stroke="#5a5a5a" stroke-width="0.8"/>
<text transform="translate(472.10,231.67) scale(0.9,1)" font-size="6.89" text-anchor="end" fill="#111" >40</text>
<line x1="474.60" y1="239.45" x2="478.20" y2="239.45" stroke="#5a5a5a" stroke-width="0.8"/>
<text transform="translate(472.10,241.65) scale(0.9,1)" font-size="6.89" text-anchor="end" fill="#111" >30</text>
<line x1="474.60" y1="249.42" x2="478.20" y2="249.42" stroke="#5a5a5a" stroke-width="0.8"/>
<text transform="translate(472.10,251.62) scale(0.9,1)" font-size="6.89" text-anchor="end" fill="#111" >20</text>
<line x1="474.60" y1="259.40" x2="478.20" y2="259.40" stroke="#5a5a5a" stroke-width="0.8"/>
<text transform="translate(472.10,261.60) scale(0.9,1)" font-size="6.89" text-anchor="end" fill="#111" >10</text>
<line x1="474.60" y1="271.80" x2="478.20" y2="271.80" stroke="#5a5a5a" stroke-width="0.8"/>
<text transform="translate(472.90,274.00) scale(0.9,1)" font-size="6.89" text-anchor="end" fill="#111" >5</text>
<line x1="474.60" y1="280.56" x2="478.20" y2="280.56" stroke="#5a5a5a" stroke-width="0.8"/>
<text transform="translate(472.90,282.76) scale(0.9,1)" font-size="6.89" text-anchor="end" fill="#111" >4</text>
<line x1="474.60" y1="289.32" x2="478.20" y2="289.32" stroke="#5a5a5a" stroke-width="0.8"/>
<text transform="translate(472.90,291.52) scale(0.9,1)" font-size="6.89" text-anchor="end" fill="#111" >3</text>
<line x1="474.60" y1="298.08" x2="478.20" y2="298.08" stroke="#5a5a5a" stroke-width="0.8"/>
<text transform="translate(472.90,300.28) scale(0.9,1)" font-size="6.89" text-anchor="end" fill="#111" >2</text>
<line x1="474.60" y1="306.84" x2="478.20" y2="306.84" stroke="#5a5a5a" stroke-width="0.8"/>
<text transform="translate(472.90,309.04) scale(0.9,1)" font-size="6.89" text-anchor="end" fill="#111" >1</text>
<line x1="474.60" y1="315.60" x2="478.20" y2="315.60" stroke="#5a5a5a" stroke-width="0.8"/>
<text transform="translate(472.90,317.80) scale(0.9,1)" font-size="6.89" text-anchor="end" fill="#111" >0</text>
<line x1="478.20" y1="315.50" x2="543.00" y2="315.50" stroke="#5a5a5a" stroke-width="0.8"/>
<line x1="491.40" y1="315.50" x2="491.40" y2="319.00" stroke="#5a5a5a" stroke-width="0.8"/>
<line x1="510.70" y1="315.50" x2="510.70" y2="319.00" stroke="#5a5a5a" stroke-width="0.8"/>
<line x1="529.80" y1="315.50" x2="529.80" y2="319.00" stroke="#5a5a5a" stroke-width="0.8"/>
<text transform="translate(494.60,327.30) scale(0.9,1)" font-size="6.89" text-anchor="middle" fill="#111" >0</text>
<text transform="translate(514.00,327.30) scale(0.9,1)" font-size="6.89" text-anchor="middle" fill="#111" >1</text>
<text transform="translate(529.30,327.30) scale(0.9,1)" font-size="6.89" text-anchor="middle" fill="#111" >5</text>
<text transform="translate(535.90,327.60) scale(0.9,1)" font-size="6.33" text-anchor="start" fill="#111" >(h)</text>
<text transform="translate(490.20,340.80) scale(0.9,1)" font-size="6.72" text-anchor="start" fill="#111" >Drought treatment</text>
<text transform="translate(463.80,274.70) rotate(-90) scale(0.9,1)" font-size="5.78" text-anchor="middle" fill="#111">Relative Expression Level</text>
<rect x="484.90" y="247.20" width="12.80" height="16.80" fill="#70b9f6" stroke="#4d6578" stroke-width="0.6"/>
<rect x="484.90" y="271.40" width="12.80" height="44.10" fill="#70b9f6" stroke="#4d6578" stroke-width="0.6"/>
<line x1="491.40" y1="230.50" x2="491.40" y2="247.20" stroke="#5a5a5a" stroke-width="0.8"/>
<line x1="488.30" y1="230.50" x2="494.60" y2="230.50" stroke="#5a5a5a" stroke-width="0.8"/>
<rect x="504.10" y="247.20" width="12.90" height="16.80" fill="#70b9f6" stroke="#4d6578" stroke-width="0.6"/>
<rect x="504.10" y="271.40" width="12.90" height="44.10" fill="#70b9f6" stroke="#4d6578" stroke-width="0.6"/>
<line x1="510.60" y1="243.60" x2="510.60" y2="247.20" stroke="#5a5a5a" stroke-width="0.8"/>
<line x1="507.60" y1="243.60" x2="513.80" y2="243.60" stroke="#5a5a5a" stroke-width="0.8"/>
<rect x="523.40" y="305.20" width="13.00" height="10.30" fill="#70b9f6" stroke="#4d6578" stroke-width="0.6"/>
<line x1="529.80" y1="296.40" x2="529.80" y2="305.20" stroke="#5a5a5a" stroke-width="0.8"/>
<line x1="526.70" y1="296.40" x2="533.30" y2="296.40" stroke="#5a5a5a" stroke-width="0.8"/>
<polyline points="491.30,204.10 491.30,199.00 530.30,199.00 530.30,204.10" fill="none" stroke="#5a5a5a" stroke-width="0.8"/>
<ellipse cx="507.35" cy="192.20" rx="1.05" ry="0.9" fill="#1a1a1a"/>
<ellipse cx="509.65" cy="192.20" rx="1.05" ry="0.9" fill="#1a1a1a"/>
<polyline points="491.40,225.60 491.40,219.30 509.00,219.30 509.00,237.50" fill="none" stroke="#5a5a5a" stroke-width="0.8"/>
<text transform="translate(500.00,214.60) scale(0.9,1)" font-size="10.00" text-anchor="middle" fill="#111" >ns</text>
<polyline points="512.50,237.50 512.50,219.30 530.50,219.30 530.50,289.60" fill="none" stroke="#5a5a5a" stroke-width="0.8"/>
<ellipse cx="521.05" cy="211.50" rx="1.05" ry="0.9" fill="#1a1a1a"/>
<ellipse cx="523.35" cy="211.50" rx="1.05" ry="0.9" fill="#1a1a1a"/>
</svg>
</body></html>
